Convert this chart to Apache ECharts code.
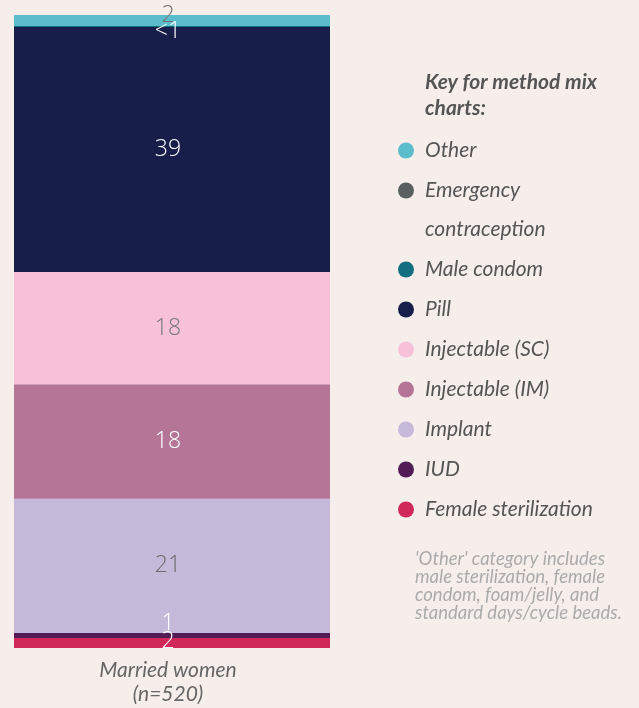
<!DOCTYPE html>
<html>
<head>
<meta charset="utf-8">
<script src="https://cdn.jsdelivr.net/npm/echarts@6/dist/echarts.min.js"></script>
<style>
  html, body { margin: 0; padding: 0; background: #f5eeeb; }
  #chart { width: 639px; height: 708px; }
</style>
</head>
<body>
<div id="chart"></div>
<script>
// stacked from bottom to top, labels as printed
const methods = ["Female sterilization", "IUD", "Implant", "Injectable (IM)", "Injectable (SC)", "Pill", "Male condom", "Emergency contraception", "Other"];
const values = [1.6, 0.8, 21.4, 18.3, 17.9, 39.1, 0.16, 0, 1.75];
const valueLabels = ["2", "1", "21", "18", "18", "39", "<1", "", "2"];
const colors = ["#d1285a", "#521d57", "#c4b9d8", "#b57597", "#f6c1d9", "#171e4a", "#136f7f", "#5a5f60", "#5bbccc"];
const labelColors = ["#ffffff", "#ffffff", "#6b6b6b", "#ffffff", "#777777", "#ffffff", "#ffffff", "#ffffff", "#707070"];
const labelShift = [-1.5, -12, 0, 0, 0, 0, 5, 0, -5];
const category = ["Married women\n(n=520)"];
const keyTop = ["Other", "Emergency contraception"];
const keyBottom = ["Male condom", "Pill", "Injectable (SC)", "Injectable (IM)", "Implant", "IUD", "Female sterilization"];

const total = values.reduce((a, b) => a + b, 0);
const chart = echarts.init(document.getElementById("chart"));

const legendText = {
  color: "#555",
  fontSize: 21,
  fontStyle: "italic",
  fontFamily: "Lato",
  padding: [0, 0, 0, 6],
};

chart.setOption({
  backgroundColor: "#f5eeeb",
  animation: false,
  grid: { left: 14, top: 15, width: 316, bottom: 60 },
  xAxis: {
    type: "category",
    data: category,
    axisLine: { show: false },
    axisTick: { show: false },
    axisLabel: {
      color: "#666",
      fontSize: 21,
      fontStyle: "italic",
      fontFamily: "Lato",
      lineHeight: 24,
      margin: 10,
      padding: [0, 8, 0, 0],
    },
  },
  yAxis: { type: "value", min: 0, max: total, show: false },
  legend: [
    {
      data: keyTop,
      orient: "vertical",
      left: 398,
      top: 140,
      padding: 0,
      itemWidth: 16,
      itemHeight: 16,
      itemGap: 19,
      icon: "circle",
      selectedMode: false,
      formatter: (name) => (name === "Emergency contraception" ? "Emergency" : name),
      textStyle: legendText,
    },
    {
      data: keyBottom,
      orient: "vertical",
      left: 398,
      top: 259,
      padding: 0,
      itemWidth: 16,
      itemHeight: 16,
      itemGap: 19,
      icon: "circle",
      selectedMode: false,
      textStyle: legendText,
    },
  ],
  graphic: [
    {
      type: "text",
      left: 425,
      top: 69,
      style: {
        text: "Key for method mix\ncharts:",
        fill: "#555",
        font: "italic bold 21px Lato",
        lineHeight: 26,
      },
    },
    {
      type: "text",
      left: 425,
      top: 219,
      style: { text: "contraception", fill: "#555", font: "italic 21px Lato" },
    },
    {
      type: "text",
      left: 415,
      top: 550,
      style: {
        text: "'Other' category includes\nmale sterilization, female\ncondom, foam/jelly, and\nstandard days/cycle beads.",
        fill: "#ababab",
        font: "italic 18.5px Lato",
        lineHeight: 18,
      },
    },
  ],
  series: methods.map((name, i) => ({
    name,
    type: "bar",
    stack: "mix",
    barWidth: "100%",
    data: [values[i]],
    itemStyle: { color: colors[i] },
    label: {
      show: valueLabels[i] !== "",
      position: "inside",
      formatter: () => valueLabels[i],
      color: labelColors[i],
      fontSize: 23,
      fontWeight: 300,
      fontFamily: "Open Sans",
    },
    labelLayout: { hideOverlap: false, dx: -4, dy: labelShift[i] },
  })),
});
</script>
</body>
</html>
